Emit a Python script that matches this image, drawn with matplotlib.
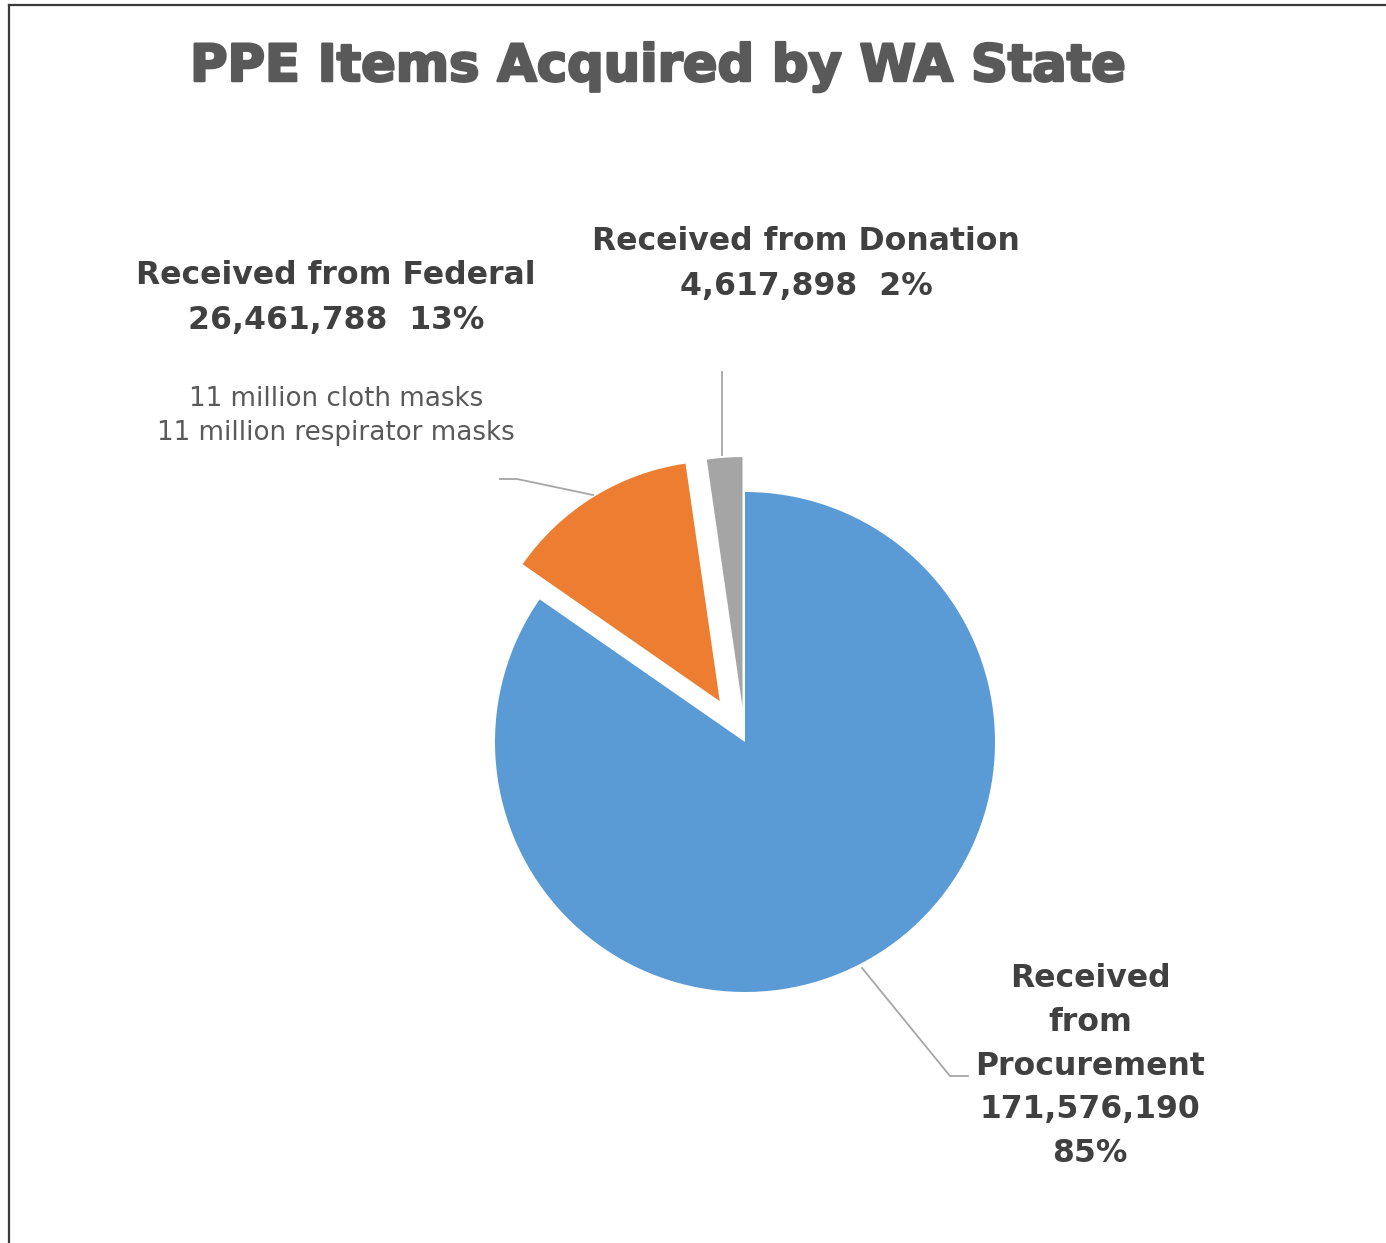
import matplotlib
matplotlib.use("Agg")
import matplotlib.pyplot as plt
from matplotlib.lines import Line2D
import matplotlib.patheffects as pe

# ---- data ----
categories = ["Received from Procurement", "Received from Federal", "Received from Donation"]
values = [171576190, 26461788, 4617898]
percent_labels = ["85%", "13%", "2%"]
value_labels = ["171,576,190", "26,461,788", "4,617,898"]
federal_note = ["11 million cloth masks", "11 million respirator masks"]
colors = ["#5B9BD5", "#ED7D31", "#A5A5A5"]
title = "PPE Items Acquired by WA State"

W, H = 1386, 1243
fig = plt.figure(figsize=(W / 100, H / 100), dpi=100)
ax = fig.add_axes([0, 0, 1, 1])

def Y(py):
    return H - py

# explode offsets are absolute (data units = pixels here)
wedges, _ = ax.pie(values, colors=colors, startangle=90, counterclock=False,
                   explode=[0, 48, 35], center=(745, Y(742)), radius=250,
                   wedgeprops=dict(linewidth=0))
wedges[1].set_radius(240)
ax.set_xlim(0, W)
ax.set_ylim(0, H)
ax.set_aspect("equal")
ax.axis("off")

lab_color = "#404040"
lab_size = 22.7
line_gap = 44.5

def block(lines, x, y0, size, weight, color, gap):
    for i, s in enumerate(lines):
        ax.text(x, Y(y0 + i * gap), s, ha="center", va="baseline",
                fontsize=size, fontweight=weight, color=color,
                family="DejaVu Sans")

# title
ax.text(658, Y(81), title, ha="center", va="baseline", fontsize=36.8,
        fontweight="bold", color="#595959", family="DejaVu Sans",
        path_effects=[pe.withStroke(linewidth=1.8, foreground="#595959")])

# labels
block([categories[1], f"{value_labels[1]}  {percent_labels[1]}"], 336, 284, lab_size, "bold", lab_color, line_gap)
block([categories[2], f"{value_labels[2]}  {percent_labels[2]}"], 806, 250, lab_size, "bold", lab_color, line_gap)
block(["Received", "from", "Procurement", value_labels[0], percent_labels[0]], 1090, 987, lab_size, "bold", lab_color, 43.8)
block(federal_note, 336, 406, 18.8, "normal", "#595959", 34)

# leader lines
lc = "#A6A6A6"
ax.plot([722, 722], [Y(372), Y(455)], color=lc, lw=1.3)
ax.plot([500, 517, 593], [Y(479), Y(479), Y(495)], color=lc, lw=1.3)
ax.plot([862, 950, 968], [Y(968), Y(1076), Y(1076)], color=lc, lw=1.3)

# frame (top and left)
fig.add_artist(Line2D([9 / W, 1], [1 - 5 / H, 1 - 5 / H], transform=fig.transFigure,
                      color="#3a3a3a", lw=1.6))
fig.add_artist(Line2D([9 / W, 9 / W], [0, 1 - 5 / H], transform=fig.transFigure,
                      color="#3a3a3a", lw=1.6))

fig.savefig("out.png", dpi=100, facecolor="white")
